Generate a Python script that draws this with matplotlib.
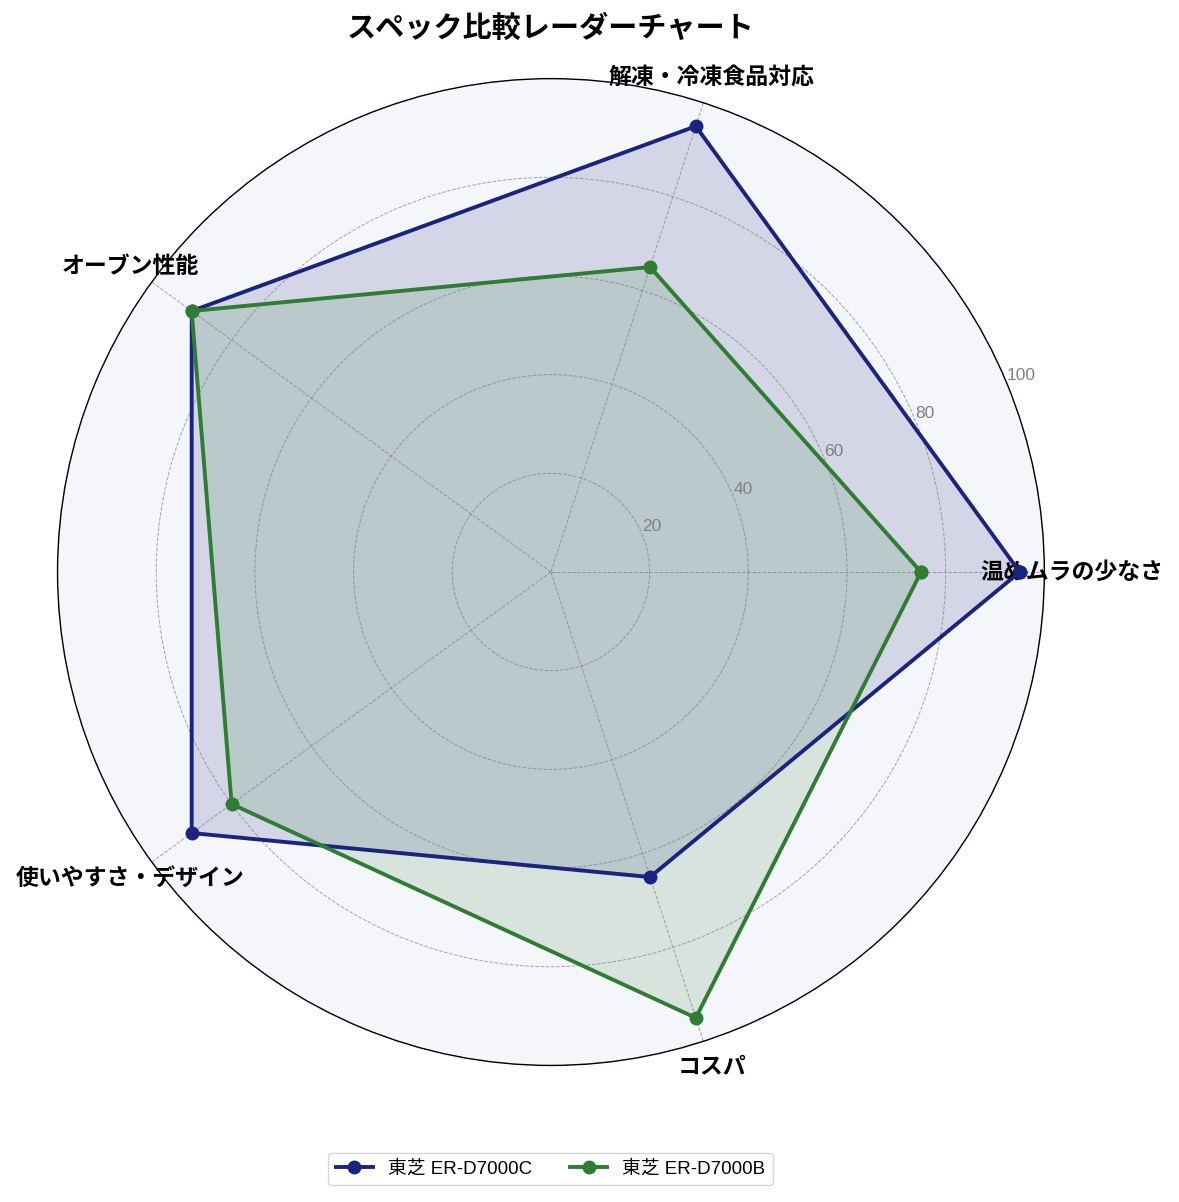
import matplotlib.pyplot as plt
import numpy as np

plt.rcParams['font.family'] = ['Liberation Sans', 'Noto Sans CJK JP', 'DejaVu Sans']

# categories and scores
categories = ['温めムラの少なさ', '解凍・冷凍食品対応', 'オーブン性能', '使いやすさ・デザイン', 'コスパ']
scores_c = [95, 95, 90, 90, 65]
scores_b = [75, 65, 90, 80, 95]
names = ['東芝 ER-D7000C', '東芝 ER-D7000B']
colors = ['#1a237e', '#2e7d32']
rticks = [20, 40, 60, 80, 100]

angles = np.linspace(0, 2 * np.pi, len(categories), endpoint=False)
ang_closed = np.concatenate([angles, angles[:1]])

fig = plt.figure(figsize=(11.79, 12.02), dpi=100)
ax = fig.add_axes([0.0488, 0.1136, 0.837, 0.821], polar=True)
ax.set_facecolor('#f5f6fa')

for vals, name, col in zip([scores_c, scores_b], names, colors):
    v = np.concatenate([vals, vals[:1]])
    ax.plot(ang_closed, v, color=col, linewidth=2.8, marker='o', markersize=9, label=name)
    ax.fill(ang_closed, v, color=col, alpha=0.15)

ax.set_ylim(0, 100)
ax.set_yticks(rticks)
ax.set_yticklabels([str(t) for t in rticks], color='gray', fontsize=12.5)
ax.set_xticks(angles)
ax.set_xticklabels(categories, fontsize=16.5, fontweight='bold')
ax.tick_params(axis='x', pad=9)
ax.grid(True, color='gray', linestyle='--', linewidth=0.7, alpha=0.7)
ax.spines['polar'].set_color('black')
ax.spines['polar'].set_linewidth(1.0)

fig.text(0.467, 1 - 29 / 1202, 'スペック比較レーダーチャート', ha='center', va='center',
         fontsize=21, fontweight='bold')

fig.legend(loc='center', bbox_to_anchor=(0.467, 1 - 1169 / 1202), ncol=2, fontsize=13.5,
           frameon=True, edgecolor='#cccccc')

fig.savefig('out.png')
